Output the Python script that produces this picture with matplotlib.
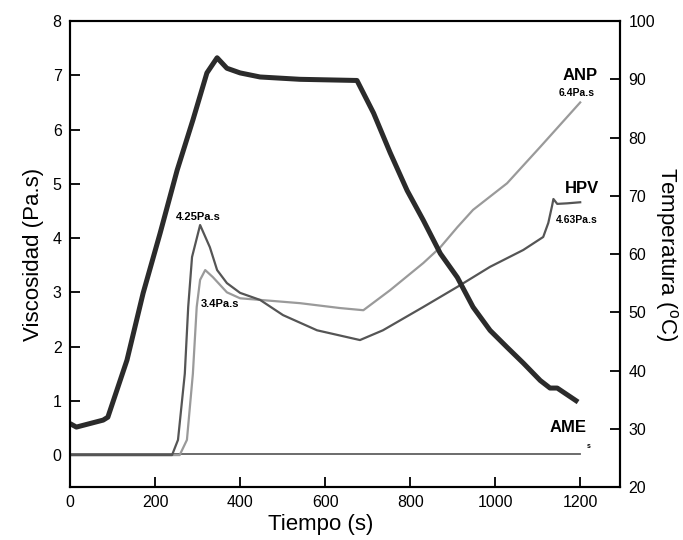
import matplotlib.pyplot as plt

plt.rcParams['font.family'] = ['Liberation Sans', 'DejaVu Sans']
plt.rcParams['mathtext.fontset'] = 'custom'
plt.rcParams['mathtext.rm'] = 'Liberation Sans'

# Temperatura (right axis)
temp_t = [0, 15, 78, 89, 134, 172, 212, 252, 289, 322, 346, 369, 400, 447,
          541, 675, 714, 753, 793, 831, 871, 911, 948, 988, 1028, 1066,
          1106, 1129, 1146, 1195]
temp_c = [30.9, 30.3, 31.5, 32.0, 41.8, 53.3, 63.6, 74.4, 83.0, 91.1, 93.7,
          91.9, 91.1, 90.4, 90.0, 89.8, 84.2, 77.4, 70.9, 65.8, 60.1, 56.0,
          50.9, 46.9, 44.0, 41.3, 38.3, 37.0, 37.0, 34.6]

# HPV
hpv_t = [0, 240, 254, 270, 278, 287, 306, 329, 346, 369, 400, 447, 501,
         581, 682, 736, 831, 911, 988, 1066, 1113, 1125, 1134, 1137, 1146,
         1169, 1200]
hpv_v = [0.0, 0.0, 0.28, 1.5, 2.73, 3.65, 4.24, 3.83, 3.41, 3.17, 2.99,
         2.86, 2.58, 2.30, 2.12, 2.30, 2.73, 3.10, 3.47, 3.78, 4.02, 4.28,
         4.60, 4.72, 4.63, 4.64, 4.66]

# ANP
anp_t = [0, 258, 275, 289, 298, 306, 318, 336, 369, 400, 447, 541, 635,
         690, 753, 831, 871, 911, 948, 1028, 1106, 1200]
anp_v = [0.0, 0.0, 0.28, 1.5, 2.73, 3.23, 3.41, 3.28, 3.0, 2.89, 2.86,
         2.80, 2.71, 2.67, 3.04, 3.54, 3.83, 4.2, 4.52, 5.01, 5.68, 6.5]

# AME
ame_t = [0, 600, 1200]
ame_v = [0.02, 0.02, 0.02]

fig = plt.figure(figsize=(6.83, 5.4), dpi=100)
ax = fig.add_axes([0.1025, 0.098, 0.8055, 0.863])
ax2 = ax.twinx()

ax.plot(ame_t, ame_v, color='#606060', lw=1.3)
ax.plot(anp_t, anp_v, color='#9a9a9a', lw=1.6)
ax.plot(hpv_t, hpv_v, color='#555555', lw=1.6)
ax2.plot(temp_t, temp_c, color='#2b2b2b', lw=3.6, solid_capstyle='butt')

ax.set_xlim(0, 1294)
ax.set_ylim(-0.59, 8)
ax2.set_ylim(20, 100)
ax.set_xticks(range(0, 1201, 200))
ax.set_yticks(range(0, 9))
ax2.set_yticks(range(20, 101, 10))

for a in (ax, ax2):
    for s in a.spines.values():
        s.set_linewidth(1.5)
ax.tick_params(direction='in', length=7, width=1.3, labelsize=11.5,
               top=False, right=False, pad=6)
ax2.tick_params(direction='in', length=7, width=1.3, labelsize=11.5, pad=6)

ax.set_xlabel('Tiempo (s)', fontsize=16)
ax.xaxis.set_label_coords(0.455, -0.058)
ax.set_ylabel('Viscosidad (Pa.s)', fontsize=16, labelpad=6)
ax2.set_ylabel('Temperatura ($^{\\rm o}$C)', fontsize=16, rotation=270,
               labelpad=18)

ax.text(302, 4.39, '4.25Pa.s', fontsize=8, fontweight='bold', ha='center', va='center')
ax.text(353, 2.78, '3.4Pa.s', fontsize=8, fontweight='bold', ha='center', va='center')
ax.text(1242, 6.99, 'ANP', fontsize=12, fontweight='bold', ha='right', va='center')
ax.text(1192, 6.67, '6.4Pa.s', fontsize=7.5, fontweight='bold', ha='center', va='center')
ax.text(1245, 4.92, 'HPV', fontsize=12, fontweight='bold', ha='right', va='center')
ax.text(1193, 4.33, '4.63Pa.s', fontsize=7.5, fontweight='bold', ha='center', va='center')
ax.text(1216, 0.50, 'AME', fontsize=12, fontweight='bold', ha='right', va='center')
ax.text(1219, 0.15, 's', fontsize=5, fontweight='bold', ha='center', va='center')

fig.savefig('out.png', dpi=100)
